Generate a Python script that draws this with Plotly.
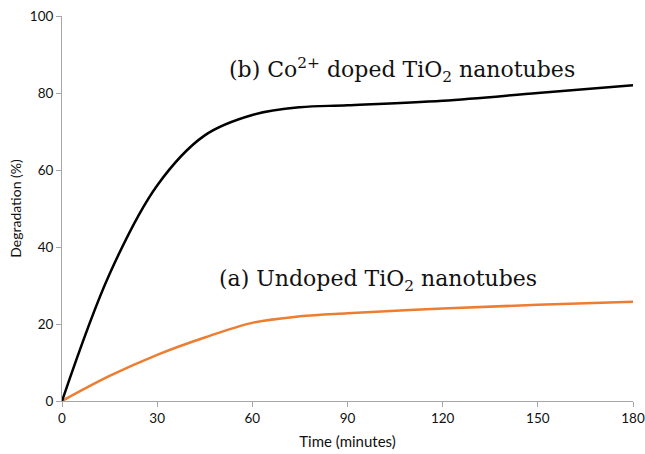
import plotly.graph_objects as go

time_min = [0, 15, 30, 45, 60, 75, 90, 120, 150, 180]
doped = [0, 33, 56, 69, 74.3, 76.3, 76.8, 78, 80, 82]
undoped = [0, 6.5, 12, 16.5, 20.3, 22, 22.8, 24, 25, 25.8]
x_ticks = [0, 30, 60, 90, 120, 150, 180]
y_ticks = [0, 20, 40, 60, 80, 100]

fig = go.Figure()
fig.add_trace(go.Scatter(x=time_min, y=undoped, mode="lines",
                         line=dict(color="#ED7D31", width=2.5, shape="spline", smoothing=1.0),
                         showlegend=False))
fig.add_trace(go.Scatter(x=time_min, y=doped, mode="lines",
                         line=dict(color="#000000", width=2.5, shape="spline", smoothing=1.0),
                         showlegend=False))

axis_font = dict(family="Lato, Open Sans, sans-serif", size=13.5, color="#111111")
fig.update_xaxes(range=[0, 180], tickvals=x_ticks, showgrid=False, zeroline=False,
                 showline=True, linecolor="#A6A6A6", linewidth=1,
                 ticks="outside", ticklen=5, tickcolor="#A6A6A6",
                 tickfont=axis_font, automargin=False,
                 title=dict(text="Time (minutes)",
                            font=dict(family="Lato, Open Sans, sans-serif", size=15, color="#111111"),
                            standoff=11))
fig.update_yaxes(range=[0, 100], tickvals=y_ticks, showgrid=False, zeroline=False,
                 showline=True, linecolor="#A6A6A6", linewidth=1,
                 ticks="outside", ticklen=5, tickcolor="#A6A6A6",
                 tickfont=axis_font, automargin=False,
                 title=dict(text="Degradation (%)",
                            font=dict(family="Lato, Open Sans, sans-serif", size=14, color="#111111"),
                            standoff=4))

ann_font = dict(family="DejaVu Serif, Liberation Serif, serif", size=22, color="#111111")
fig.add_annotation(x=52, y=86, xref="x", yref="y", xanchor="left", yanchor="middle",
                   text="(b) Co<sup>2+</sup> doped TiO<sub>2</sub> nanotubes",
                   showarrow=False, font=ann_font)
fig.add_annotation(x=49, y=31.2, xref="x", yref="y", xanchor="left", yanchor="middle",
                   text="(a) Undoped TiO<sub>2</sub> nanotubes",
                   showarrow=False, font=ann_font)

fig.update_layout(width=645, height=454, margin=dict(l=62, r=12, t=16, b=53),
                  paper_bgcolor="white", plot_bgcolor="white")
fig.write_html("out.html", config={"displayModeBar": False},
               post_script="document.body.style.margin='0';document.body.style.overflow='hidden';")
